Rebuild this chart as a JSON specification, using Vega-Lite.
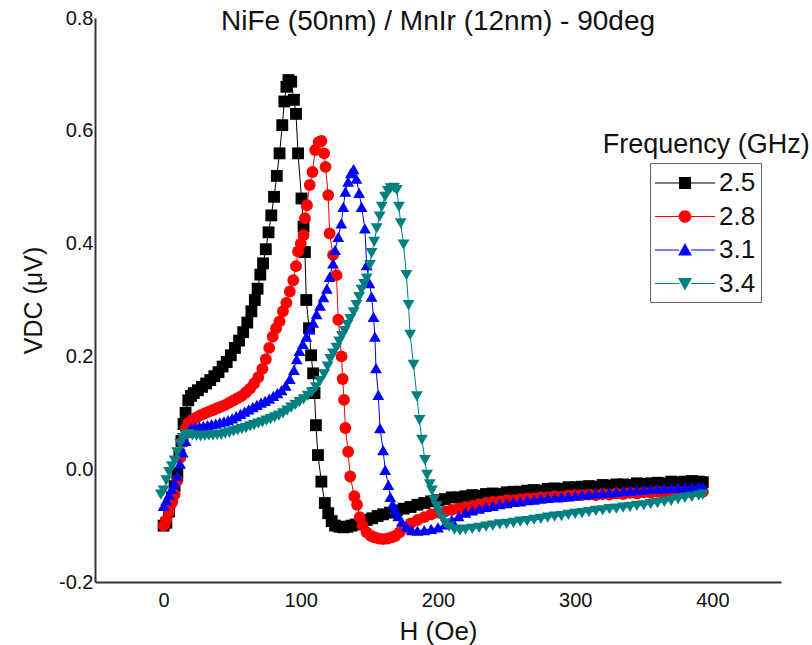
{
"$schema": "https://vega.github.io/schema/vega-lite/v6.json",
"width": 686, "height": 564,
"autosize": "none",
"padding": {"left": 95, "top": 18, "right": 31, "bottom": 63},
"background": "white",
"config": {"view": {"stroke": null}, "font": "Liberation Sans"},
"title": {"text": "NiFe (50nm) / MnIr (12nm) - 90deg", "fontSize": 28, "fontWeight": "normal", "anchor": "middle", "offset": -28, "color": "#111", "font": "Liberation Sans"},
"datasets": {"d": [
{"f":"2.5","h":0,"v":-0.10},{"f":"2.5","h":2,"v":-0.095},{"f":"2.5","h":4,"v":-0.075},{"f":"2.5","h":6,"v":-0.05},{"f":"2.5","h":8,"v":-0.03},{"f":"2.5","h":10,"v":-0.008},{"f":"2.5","h":11.5,"v":0.025},{"f":"2.5","h":13,"v":0.05},{"f":"2.5","h":14.5,"v":0.08},{"f":"2.5","h":16,"v":0.10},{"f":"2.5","h":18,"v":0.122},{"f":"2.5","h":20,"v":0.13},{"f":"2.5","h":22,"v":0.135},{"f":"2.5","h":25,"v":0.14},{"f":"2.5","h":28,"v":0.146},{"f":"2.5","h":31,"v":0.152},{"f":"2.5","h":34,"v":0.158},{"f":"2.5","h":37,"v":0.165},{"f":"2.5","h":40,"v":0.172},{"f":"2.5","h":43,"v":0.182},{"f":"2.5","h":46,"v":0.19},{"f":"2.5","h":49,"v":0.202},{"f":"2.5","h":52,"v":0.215},{"f":"2.5","h":55,"v":0.228},{"f":"2.5","h":58,"v":0.243},{"f":"2.5","h":61,"v":0.26},{"f":"2.5","h":64,"v":0.28},{"f":"2.5","h":66.5,"v":0.30},{"f":"2.5","h":68.5,"v":0.32},{"f":"2.5","h":70.5,"v":0.345},{"f":"2.5","h":72.5,"v":0.365},{"f":"2.5","h":74.5,"v":0.39},{"f":"2.5","h":76.5,"v":0.42},{"f":"2.5","h":78.5,"v":0.45},{"f":"2.5","h":80.5,"v":0.483},{"f":"2.5","h":82.5,"v":0.52},{"f":"2.5","h":84.5,"v":0.56},{"f":"2.5","h":86.5,"v":0.61},{"f":"2.5","h":88,"v":0.652},{"f":"2.5","h":89.5,"v":0.678},{"f":"2.5","h":91,"v":0.69},{"f":"2.5","h":93,"v":0.687},{"f":"2.5","h":95,"v":0.655},{"f":"2.5","h":96.5,"v":0.63},{"f":"2.5","h":98,"v":0.56},{"f":"2.5","h":100.5,"v":0.48},{"f":"2.5","h":102,"v":0.43},{"f":"2.5","h":103,"v":0.385},{"f":"2.5","h":104,"v":0.30},{"f":"2.5","h":106,"v":0.25},{"f":"2.5","h":107.5,"v":0.202},{"f":"2.5","h":109,"v":0.17},{"f":"2.5","h":110,"v":0.135},{"f":"2.5","h":111,"v":0.078},{"f":"2.5","h":112.5,"v":0.025},{"f":"2.5","h":115,"v":-0.022},{"f":"2.5","h":117.5,"v":-0.06},{"f":"2.5","h":120,"v":-0.078},{"f":"2.5","h":122.5,"v":-0.092},{"f":"2.5","h":125,"v":-0.10},{"f":"2.5","h":128,"v":-0.102},{"f":"2.5","h":131,"v":-0.103},{"f":"2.5","h":134,"v":-0.102},{"f":"2.5","h":137,"v":-0.10},{"f":"2.5","h":140,"v":-0.098},{"f":"2.5","h":144,"v":-0.094},{"f":"2.5","h":148,"v":-0.09},{"f":"2.5","h":152,"v":-0.087},{"f":"2.5","h":156,"v":-0.083},{"f":"2.5","h":160,"v":-0.08},{"f":"2.5","h":165,"v":-0.077},{"f":"2.5","h":170,"v":-0.073},{"f":"2.5","h":175,"v":-0.07},{"f":"2.5","h":180,"v":-0.067},{"f":"2.5","h":185,"v":-0.063},{"f":"2.5","h":190,"v":-0.06},{"f":"2.5","h":195,"v":-0.057},{"f":"2.5","h":200,"v":-0.055},{"f":"2.5","h":205,"v":-0.053},{"f":"2.5","h":210,"v":-0.05},{"f":"2.5","h":215,"v":-0.05},{"f":"2.5","h":220,"v":-0.048},{"f":"2.5","h":225,"v":-0.046},{"f":"2.5","h":230,"v":-0.047},{"f":"2.5","h":235,"v":-0.044},{"f":"2.5","h":240,"v":-0.043},{"f":"2.5","h":245,"v":-0.044},{"f":"2.5","h":250,"v":-0.041},{"f":"2.5","h":255,"v":-0.04},{"f":"2.5","h":260,"v":-0.04},{"f":"2.5","h":265,"v":-0.038},{"f":"2.5","h":270,"v":-0.037},{"f":"2.5","h":275,"v":-0.038},{"f":"2.5","h":280,"v":-0.035},{"f":"2.5","h":285,"v":-0.034},{"f":"2.5","h":290,"v":-0.035},{"f":"2.5","h":295,"v":-0.032},{"f":"2.5","h":300,"v":-0.032},{"f":"2.5","h":305,"v":-0.031},{"f":"2.5","h":310,"v":-0.03},{"f":"2.5","h":315,"v":-0.031},{"f":"2.5","h":320,"v":-0.028},{"f":"2.5","h":325,"v":-0.029},{"f":"2.5","h":330,"v":-0.027},{"f":"2.5","h":335,"v":-0.027},{"f":"2.5","h":340,"v":-0.028},{"f":"2.5","h":345,"v":-0.025},{"f":"2.5","h":350,"v":-0.026},{"f":"2.5","h":355,"v":-0.025},{"f":"2.5","h":360,"v":-0.024},{"f":"2.5","h":365,"v":-0.025},{"f":"2.5","h":370,"v":-0.022},{"f":"2.5","h":375,"v":-0.023},{"f":"2.5","h":380,"v":-0.022},{"f":"2.5","h":385,"v":-0.021},{"f":"2.5","h":390,"v":-0.022},{"f":"2.5","h":393,"v":-0.023},
{"f":"2.8","h":0,"v":-0.10},{"f":"2.8","h":2,"v":-0.09},{"f":"2.8","h":4,"v":-0.075},{"f":"2.8","h":6,"v":-0.06},{"f":"2.8","h":8,"v":-0.045},{"f":"2.8","h":10,"v":-0.02},{"f":"2.8","h":12,"v":0.02},{"f":"2.8","h":14,"v":0.05},{"f":"2.8","h":16,"v":0.072},{"f":"2.8","h":18,"v":0.082},{"f":"2.8","h":21,"v":0.087},{"f":"2.8","h":24,"v":0.092},{"f":"2.8","h":27,"v":0.096},{"f":"2.8","h":30,"v":0.099},{"f":"2.8","h":33,"v":0.102},{"f":"2.8","h":36,"v":0.105},{"f":"2.8","h":39,"v":0.108},{"f":"2.8","h":42,"v":0.111},{"f":"2.8","h":45,"v":0.114},{"f":"2.8","h":48,"v":0.118},{"f":"2.8","h":51,"v":0.122},{"f":"2.8","h":54,"v":0.126},{"f":"2.8","h":57,"v":0.13},{"f":"2.8","h":60,"v":0.136},{"f":"2.8","h":63,"v":0.143},{"f":"2.8","h":66,"v":0.152},{"f":"2.8","h":69,"v":0.163},{"f":"2.8","h":72,"v":0.178},{"f":"2.8","h":74.5,"v":0.195},{"f":"2.8","h":77,"v":0.215},{"f":"2.8","h":79.5,"v":0.235},{"f":"2.8","h":82,"v":0.25},{"f":"2.8","h":84.5,"v":0.262},{"f":"2.8","h":87,"v":0.28},{"f":"2.8","h":89.5,"v":0.295},{"f":"2.8","h":92,"v":0.315},{"f":"2.8","h":94.5,"v":0.335},{"f":"2.8","h":96.5,"v":0.36},{"f":"2.8","h":98,"v":0.386},{"f":"2.8","h":100,"v":0.40},{"f":"2.8","h":102,"v":0.415},{"f":"2.8","h":103,"v":0.445},{"f":"2.8","h":104.5,"v":0.468},{"f":"2.8","h":106.5,"v":0.504},{"f":"2.8","h":108.5,"v":0.527},{"f":"2.8","h":110.5,"v":0.566},{"f":"2.8","h":113,"v":0.58},{"f":"2.8","h":115,"v":0.582},{"f":"2.8","h":117,"v":0.56},{"f":"2.8","h":118,"v":0.536},{"f":"2.8","h":120,"v":0.486},{"f":"2.8","h":121,"v":0.418},{"f":"2.8","h":123.5,"v":0.38},{"f":"2.8","h":126,"v":0.344},{"f":"2.8","h":127.3,"v":0.265},{"f":"2.8","h":129.7,"v":0.20},{"f":"2.8","h":130.5,"v":0.16},{"f":"2.8","h":131.5,"v":0.123},{"f":"2.8","h":132.5,"v":0.073},{"f":"2.8","h":134.5,"v":0.031},{"f":"2.8","h":136,"v":-0.013},{"f":"2.8","h":139,"v":-0.048},{"f":"2.8","h":141,"v":-0.063},{"f":"2.8","h":143,"v":-0.085},{"f":"2.8","h":145,"v":-0.10},{"f":"2.8","h":148,"v":-0.112},{"f":"2.8","h":151,"v":-0.118},{"f":"2.8","h":154,"v":-0.121},{"f":"2.8","h":157,"v":-0.123},{"f":"2.8","h":160,"v":-0.124},{"f":"2.8","h":163,"v":-0.123},{"f":"2.8","h":166,"v":-0.121},{"f":"2.8","h":169,"v":-0.118},{"f":"2.8","h":172,"v":-0.112},{"f":"2.8","h":176,"v":-0.104},{"f":"2.8","h":180,"v":-0.096},{"f":"2.8","h":185,"v":-0.09},{"f":"2.8","h":190,"v":-0.085},{"f":"2.8","h":195,"v":-0.08},{"f":"2.8","h":200,"v":-0.077},{"f":"2.8","h":205,"v":-0.075},{"f":"2.8","h":210,"v":-0.072},{"f":"2.8","h":215,"v":-0.07},{"f":"2.8","h":220,"v":-0.067},{"f":"2.8","h":225,"v":-0.065},{"f":"2.8","h":230,"v":-0.062},{"f":"2.8","h":235,"v":-0.06},{"f":"2.8","h":240,"v":-0.058},{"f":"2.8","h":245,"v":-0.057},{"f":"2.8","h":250,"v":-0.055},{"f":"2.8","h":255,"v":-0.055},{"f":"2.8","h":260,"v":-0.053},{"f":"2.8","h":265,"v":-0.052},{"f":"2.8","h":270,"v":-0.052},{"f":"2.8","h":275,"v":-0.05},{"f":"2.8","h":280,"v":-0.05},{"f":"2.8","h":285,"v":-0.048},{"f":"2.8","h":290,"v":-0.049},{"f":"2.8","h":295,"v":-0.047},{"f":"2.8","h":300,"v":-0.046},{"f":"2.8","h":305,"v":-0.046},{"f":"2.8","h":310,"v":-0.045},{"f":"2.8","h":315,"v":-0.046},{"f":"2.8","h":320,"v":-0.044},{"f":"2.8","h":325,"v":-0.045},{"f":"2.8","h":330,"v":-0.043},{"f":"2.8","h":335,"v":-0.044},{"f":"2.8","h":340,"v":-0.042},{"f":"2.8","h":345,"v":-0.043},{"f":"2.8","h":350,"v":-0.041},{"f":"2.8","h":355,"v":-0.042},{"f":"2.8","h":360,"v":-0.04},{"f":"2.8","h":365,"v":-0.042},{"f":"2.8","h":370,"v":-0.04},{"f":"2.8","h":375,"v":-0.041},{"f":"2.8","h":380,"v":-0.039},{"f":"2.8","h":385,"v":-0.04},{"f":"2.8","h":390,"v":-0.039},{"f":"2.8","h":393,"v":-0.04},
{"f":"3.1","h":0,"v":-0.065},{"f":"3.1","h":2,"v":-0.055},{"f":"3.1","h":4,"v":-0.045},{"f":"3.1","h":6,"v":-0.035},{"f":"3.1","h":8,"v":-0.025},{"f":"3.1","h":10,"v":-0.012},{"f":"3.1","h":12,"v":0.01},{"f":"3.1","h":14,"v":0.03},{"f":"3.1","h":16,"v":0.05},{"f":"3.1","h":18,"v":0.065},{"f":"3.1","h":20,"v":0.073},{"f":"3.1","h":23,"v":0.075},{"f":"3.1","h":26,"v":0.076},{"f":"3.1","h":29,"v":0.077},{"f":"3.1","h":32,"v":0.078},{"f":"3.1","h":35,"v":0.08},{"f":"3.1","h":38,"v":0.081},{"f":"3.1","h":41,"v":0.083},{"f":"3.1","h":44,"v":0.085},{"f":"3.1","h":47,"v":0.087},{"f":"3.1","h":50,"v":0.09},{"f":"3.1","h":53,"v":0.094},{"f":"3.1","h":56,"v":0.098},{"f":"3.1","h":59,"v":0.102},{"f":"3.1","h":62,"v":0.106},{"f":"3.1","h":65,"v":0.11},{"f":"3.1","h":68,"v":0.114},{"f":"3.1","h":71,"v":0.118},{"f":"3.1","h":74,"v":0.121},{"f":"3.1","h":77,"v":0.125},{"f":"3.1","h":80,"v":0.13},{"f":"3.1","h":83,"v":0.135},{"f":"3.1","h":86,"v":0.14},{"f":"3.1","h":89,"v":0.148},{"f":"3.1","h":92,"v":0.16},{"f":"3.1","h":95,"v":0.176},{"f":"3.1","h":97,"v":0.195},{"f":"3.1","h":99,"v":0.21},{"f":"3.1","h":101.5,"v":0.222},{"f":"3.1","h":104,"v":0.235},{"f":"3.1","h":106.5,"v":0.248},{"f":"3.1","h":109,"v":0.26},{"f":"3.1","h":111.5,"v":0.275},{"f":"3.1","h":114,"v":0.29},{"f":"3.1","h":116.5,"v":0.305},{"f":"3.1","h":119,"v":0.32},{"f":"3.1","h":121,"v":0.341},{"f":"3.1","h":123.5,"v":0.365},{"f":"3.1","h":125,"v":0.389},{"f":"3.1","h":127.3,"v":0.412},{"f":"3.1","h":129.5,"v":0.436},{"f":"3.1","h":131,"v":0.465},{"f":"3.1","h":132.5,"v":0.492},{"f":"3.1","h":134.5,"v":0.51},{"f":"3.1","h":136.5,"v":0.525},{"f":"3.1","h":138.5,"v":0.532},{"f":"3.1","h":140.5,"v":0.515},{"f":"3.1","h":142.5,"v":0.49},{"f":"3.1","h":144.3,"v":0.465},{"f":"3.1","h":146.7,"v":0.427},{"f":"3.1","h":148,"v":0.362},{"f":"3.1","h":150,"v":0.33},{"f":"3.1","h":151.6,"v":0.306},{"f":"3.1","h":153,"v":0.27},{"f":"3.1","h":154,"v":0.235},{"f":"3.1","h":154.8,"v":0.179},{"f":"3.1","h":156.5,"v":0.132},{"f":"3.1","h":157.7,"v":0.073},{"f":"3.1","h":160,"v":0.034},{"f":"3.1","h":161.5,"v":-0.001},{"f":"3.1","h":163.8,"v":-0.028},{"f":"3.1","h":165.2,"v":-0.049},{"f":"3.1","h":167,"v":-0.062},{"f":"3.1","h":168.7,"v":-0.072},{"f":"3.1","h":171,"v":-0.083},{"f":"3.1","h":173.6,"v":-0.093},{"f":"3.1","h":177,"v":-0.102},{"f":"3.1","h":181,"v":-0.108},{"f":"3.1","h":185,"v":-0.109},{"f":"3.1","h":190,"v":-0.108},{"f":"3.1","h":195,"v":-0.106},{"f":"3.1","h":200,"v":-0.103},{"f":"3.1","h":205,"v":-0.098},{"f":"3.1","h":210,"v":-0.09},{"f":"3.1","h":215,"v":-0.083},{"f":"3.1","h":220,"v":-0.077},{"f":"3.1","h":225,"v":-0.073},{"f":"3.1","h":230,"v":-0.07},{"f":"3.1","h":235,"v":-0.067},{"f":"3.1","h":240,"v":-0.065},{"f":"3.1","h":245,"v":-0.062},{"f":"3.1","h":250,"v":-0.06},{"f":"3.1","h":255,"v":-0.058},{"f":"3.1","h":260,"v":-0.057},{"f":"3.1","h":265,"v":-0.055},{"f":"3.1","h":270,"v":-0.054},{"f":"3.1","h":275,"v":-0.052},{"f":"3.1","h":280,"v":-0.051},{"f":"3.1","h":285,"v":-0.05},{"f":"3.1","h":290,"v":-0.049},{"f":"3.1","h":295,"v":-0.048},{"f":"3.1","h":300,"v":-0.047},{"f":"3.1","h":305,"v":-0.045},{"f":"3.1","h":310,"v":-0.044},{"f":"3.1","h":315,"v":-0.043},{"f":"3.1","h":320,"v":-0.042},{"f":"3.1","h":325,"v":-0.041},{"f":"3.1","h":330,"v":-0.04},{"f":"3.1","h":335,"v":-0.039},{"f":"3.1","h":340,"v":-0.038},{"f":"3.1","h":345,"v":-0.037},{"f":"3.1","h":350,"v":-0.036},{"f":"3.1","h":355,"v":-0.035},{"f":"3.1","h":360,"v":-0.035},{"f":"3.1","h":365,"v":-0.034},{"f":"3.1","h":370,"v":-0.033},{"f":"3.1","h":375,"v":-0.033},{"f":"3.1","h":380,"v":-0.032},{"f":"3.1","h":385,"v":-0.031},{"f":"3.1","h":390,"v":-0.031},{"f":"3.1","h":393,"v":-0.032},
{"f":"3.4","h":-2,"v":-0.045},{"f":"3.4","h":0,"v":-0.038},{"f":"3.4","h":2,"v":-0.02},{"f":"3.4","h":4,"v":-0.005},{"f":"3.4","h":6,"v":0.005},{"f":"3.4","h":8,"v":0.015},{"f":"3.4","h":10,"v":0.03},{"f":"3.4","h":12,"v":0.045},{"f":"3.4","h":14,"v":0.055},{"f":"3.4","h":16,"v":0.06},{"f":"3.4","h":18,"v":0.062},{"f":"3.4","h":21,"v":0.06},{"f":"3.4","h":24,"v":0.059},{"f":"3.4","h":27,"v":0.058},{"f":"3.4","h":30,"v":0.059},{"f":"3.4","h":33,"v":0.06},{"f":"3.4","h":36,"v":0.06},{"f":"3.4","h":39,"v":0.061},{"f":"3.4","h":42,"v":0.061},{"f":"3.4","h":45,"v":0.063},{"f":"3.4","h":48,"v":0.065},{"f":"3.4","h":51,"v":0.067},{"f":"3.4","h":54,"v":0.069},{"f":"3.4","h":57,"v":0.071},{"f":"3.4","h":60,"v":0.073},{"f":"3.4","h":63,"v":0.076},{"f":"3.4","h":66,"v":0.078},{"f":"3.4","h":69,"v":0.081},{"f":"3.4","h":72,"v":0.083},{"f":"3.4","h":75,"v":0.086},{"f":"3.4","h":78,"v":0.089},{"f":"3.4","h":81,"v":0.092},{"f":"3.4","h":84,"v":0.095},{"f":"3.4","h":87,"v":0.099},{"f":"3.4","h":90,"v":0.104},{"f":"3.4","h":93,"v":0.109},{"f":"3.4","h":96,"v":0.114},{"f":"3.4","h":99,"v":0.119},{"f":"3.4","h":102,"v":0.124},{"f":"3.4","h":105,"v":0.13},{"f":"3.4","h":108,"v":0.136},{"f":"3.4","h":111,"v":0.145},{"f":"3.4","h":114,"v":0.156},{"f":"3.4","h":117,"v":0.168},{"f":"3.4","h":119.5,"v":0.182},{"f":"3.4","h":121.5,"v":0.195},{"f":"3.4","h":123.5,"v":0.205},{"f":"3.4","h":126,"v":0.215},{"f":"3.4","h":128,"v":0.226},{"f":"3.4","h":130,"v":0.236},{"f":"3.4","h":132,"v":0.245},{"f":"3.4","h":134,"v":0.256},{"f":"3.4","h":136,"v":0.266},{"f":"3.4","h":138.5,"v":0.278},{"f":"3.4","h":140.5,"v":0.291},{"f":"3.4","h":142.5,"v":0.305},{"f":"3.4","h":144.3,"v":0.318},{"f":"3.4","h":146.2,"v":0.328},{"f":"3.4","h":148,"v":0.338},{"f":"3.4","h":150.4,"v":0.362},{"f":"3.4","h":151.6,"v":0.383},{"f":"3.4","h":153.5,"v":0.403},{"f":"3.4","h":155.3,"v":0.427},{"f":"3.4","h":157.5,"v":0.448},{"f":"3.4","h":159,"v":0.465},{"f":"3.4","h":161.4,"v":0.483},{"f":"3.4","h":163.5,"v":0.493},{"f":"3.4","h":165.5,"v":0.498},{"f":"3.4","h":168,"v":0.499},{"f":"3.4","h":170,"v":0.495},{"f":"3.4","h":171.5,"v":0.465},{"f":"3.4","h":172.8,"v":0.436},{"f":"3.4","h":174.9,"v":0.398},{"f":"3.4","h":177,"v":0.344},{"f":"3.4","h":178.5,"v":0.291},{"f":"3.4","h":179.7,"v":0.238},{"f":"3.4","h":182.2,"v":0.185},{"f":"3.4","h":184.6,"v":0.129},{"f":"3.4","h":186.5,"v":0.087},{"f":"3.4","h":188.3,"v":0.052},{"f":"3.4","h":190.5,"v":0.016},{"f":"3.4","h":192,"v":-0.01},{"f":"3.4","h":194,"v":-0.027},{"f":"3.4","h":195.6,"v":-0.038},{"f":"3.4","h":197,"v":-0.055},{"f":"3.4","h":199,"v":-0.066},{"f":"3.4","h":200.5,"v":-0.075},{"f":"3.4","h":203,"v":-0.087},{"f":"3.4","h":205.3,"v":-0.096},{"f":"3.4","h":208,"v":-0.102},{"f":"3.4","h":212,"v":-0.107},{"f":"3.4","h":216,"v":-0.109},{"f":"3.4","h":220,"v":-0.107},{"f":"3.4","h":225,"v":-0.106},{"f":"3.4","h":230,"v":-0.104},{"f":"3.4","h":235,"v":-0.102},{"f":"3.4","h":240,"v":-0.10},{"f":"3.4","h":245,"v":-0.098},{"f":"3.4","h":250,"v":-0.097},{"f":"3.4","h":255,"v":-0.095},{"f":"3.4","h":260,"v":-0.093},{"f":"3.4","h":265,"v":-0.092},{"f":"3.4","h":270,"v":-0.09},{"f":"3.4","h":275,"v":-0.088},{"f":"3.4","h":280,"v":-0.086},{"f":"3.4","h":285,"v":-0.084},{"f":"3.4","h":290,"v":-0.083},{"f":"3.4","h":295,"v":-0.081},{"f":"3.4","h":300,"v":-0.079},{"f":"3.4","h":305,"v":-0.078},{"f":"3.4","h":310,"v":-0.076},{"f":"3.4","h":315,"v":-0.074},{"f":"3.4","h":320,"v":-0.073},{"f":"3.4","h":325,"v":-0.071},{"f":"3.4","h":330,"v":-0.07},{"f":"3.4","h":335,"v":-0.068},{"f":"3.4","h":340,"v":-0.067},{"f":"3.4","h":345,"v":-0.065},{"f":"3.4","h":350,"v":-0.064},{"f":"3.4","h":355,"v":-0.062},{"f":"3.4","h":360,"v":-0.06},{"f":"3.4","h":365,"v":-0.058},{"f":"3.4","h":370,"v":-0.056},{"f":"3.4","h":375,"v":-0.053},{"f":"3.4","h":380,"v":-0.051},{"f":"3.4","h":385,"v":-0.049},{"f":"3.4","h":390,"v":-0.047},{"f":"3.4","h":393,"v":-0.045}
], "t": [{"label": "Frequency (GHz)"}]},
"layer": [
  {"data": {"name": "d"},
   "mark": {"type": "line", "strokeWidth": 1},
   "encoding": {
     "x": {"field": "h", "type": "quantitative", "scale": {"domain": [-50, 450], "nice": false, "zero": false},
        "axis": {"title": "H (Oe)", "values": [0, 100, 200, 300, 400], "ticks": false, "grid": false, "domainColor": "#333", "domainWidth": 2, "labelFontSize": 20, "labelColor": "#111", "labelPadding": 8, "titleFontSize": 26, "titleFontWeight": "normal", "titleColor": "#111", "titlePadding": 8, "labelFont": "Liberation Sans", "titleFont": "Liberation Sans"}},
     "y": {"field": "v", "type": "quantitative", "scale": {"domain": [-0.2, 0.8], "nice": false, "zero": false},
        "axis": {"title": "VDC (μV)", "values": [-0.2, 0, 0.2, 0.4, 0.6, 0.8], "labelExpr": "datum.value < 0 ? '-' + format(-datum.value, '.1f') : format(datum.value, '.1f')", "ticks": false, "grid": false, "domainColor": "#333", "domainWidth": 2, "labelFontSize": 20, "labelColor": "#111", "labelPadding": 2, "titleFontSize": 25, "titleFontWeight": "normal", "titleColor": "#111", "titlePadding": 12, "labelFont": "Liberation Sans", "titleFont": "Liberation Sans"}},
     "color": {"field": "f", "type": "nominal", "scale": {"domain": ["2.5", "2.8", "3.1", "3.4"], "range": ["#000000", "#ff0000", "#0000ff", "#008080"]}, "legend": null}}},
  {"data": {"name": "d"},
   "mark": {"type": "point", "filled": true, "size": 140, "opacity": 1},
   "encoding": {
     "x": {"field": "h", "type": "quantitative"},
     "y": {"field": "v", "type": "quantitative"},
     "color": {"field": "f", "type": "nominal", "scale": {"domain": ["2.5", "2.8", "3.1", "3.4"], "range": ["#000000", "#ff0000", "#0000ff", "#008080"]}, "legend": null},
     "shape": {"field": "f", "type": "nominal", "scale": {"domain": ["2.5", "2.8", "3.1", "3.4"], "range": ["square", "circle", "triangle-up", "triangle-down"]}, "legend": null}}},
  {"data": {"name": "d"},
   "transform": [{"filter": "false"}],
   "mark": {"type": "point", "filled": true, "opacity": 1},
   "encoding": {
     "x": {"field": "h", "type": "quantitative"},
     "y": {"field": "v", "type": "quantitative"},
     "color": {"field": "f", "type": "nominal", "scale": {"domain": ["2.5", "2.8", "3.1", "3.4"], "range": ["#000000", "#ff0000", "#0000ff", "#008080"]},
              "legend": {"title": null, "orient": "none", "legendX": 555, "legendY": 145, "strokeColor": "#666", "padding": 5, "symbolSize": 900, "labelFontSize": 26, "labelFont": "Liberation Sans", "labelColor": "#111", "labelOffset": 34, "rowPadding": 5.5, "symbolStrokeWidth": 0}},
     "shape": {"field": "f", "type": "nominal", "scale": {"domain": ["2.5", "2.8", "3.1", "3.4"], "range": [
                   "M-1,-0.04H0.6V0.04H-1ZM1.4,-0.04H3V0.04H1.4ZM0.6,-0.4H1.4V0.4H0.6Z",
                   "M-1,-0.04H0.58V0.04H-1ZM1.42,-0.04H3V0.04H1.42ZM0.58,0A0.42,0.42 0 1,0 1.42,0A0.42,0.42 0 1,0 0.58,0Z",
                   "M-1,-0.04H0.6V0.04H-1ZM1.4,-0.04H3V0.04H1.4ZM1,-0.46L1.46,0.36H0.54Z",
                   "M-1,-0.04H0.6V0.04H-1ZM1.4,-0.04H3V0.04H1.4ZM1,0.46L1.46,-0.36H0.54Z"]},
              "legend": {"title": null, "orient": "none", "legendX": 555, "legendY": 145, "strokeColor": "#666", "padding": 5, "symbolSize": 900, "labelFontSize": 26, "labelFont": "Liberation Sans", "labelColor": "#111", "labelOffset": 34, "rowPadding": 5.5, "symbolStrokeWidth": 0}}}},
  {"data": {"name": "t"},
   "mark": {"type": "text", "fontSize": 27, "font": "Liberation Sans", "color": "#111", "align": "center", "baseline": "middle", "clip": false},
   "encoding": {"x": {"datum": 395.5, "type": "quantitative"}, "y": {"datum": 0.574, "type": "quantitative"}, "text": {"field": "label", "type": "nominal"}}}
],
"resolve": {"scale": {"color": "independent", "shape": "independent"}}
}
